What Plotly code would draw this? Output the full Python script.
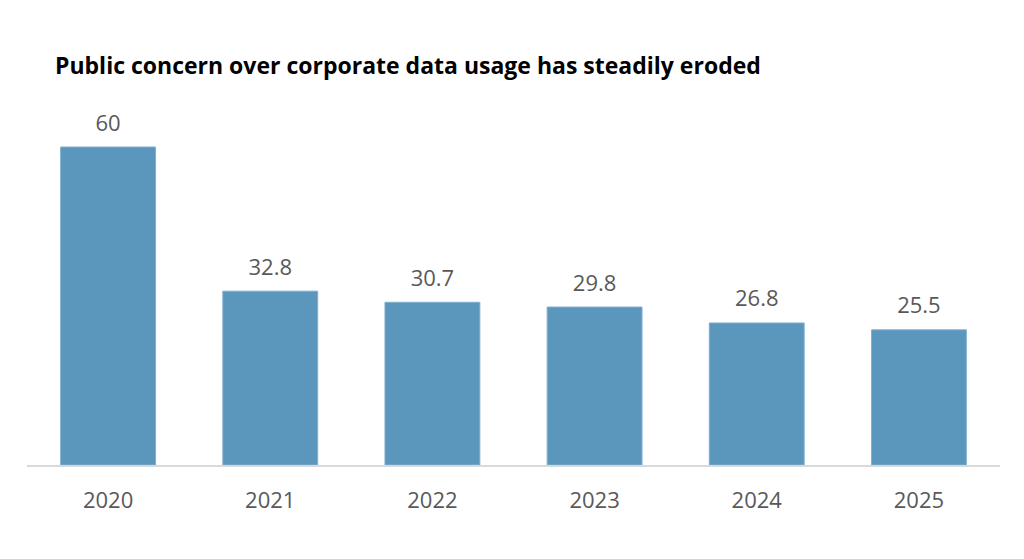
import plotly.graph_objects as go

years = ["2020", "2021", "2022", "2023", "2024", "2025"]
values = [60, 32.8, 30.7, 29.8, 26.8, 25.5]
labels = ["60", "32.8", "30.7", "29.8", "26.8", "25.5"]
title_text = "Public concern over corporate data usage has steadily eroded"

fig = go.Figure()
fig.add_trace(go.Bar(
    x=years, y=values,
    marker=dict(color="#5B96BD", line=dict(color="#7FAFCF", width=1)),
    width=0.585, hoverinfo="skip",
))
fig.add_trace(go.Scatter(
    x=years, y=values, text=labels, mode="markers+text",
    textposition="top center",
    marker=dict(size=16, opacity=0),
    textfont=dict(family="Open Sans", size=22, color="#595959"),
    cliponaxis=False, hoverinfo="skip",
))

fig.update_layout(
    width=1024, height=559,
    margin=dict(l=19, r=32, t=92, b=102),
    plot_bgcolor="white", paper_bgcolor="white",
    showlegend=False,
    title=dict(text="<b>" + title_text + "</b>", x=47/1024, xanchor="left",
               y=1 - 58/559, yanchor="middle",
               font=dict(family="Open Sans", size=23, color="#000000")),
    xaxis=dict(type="category", showline=True, linecolor="#D9D9D9", linewidth=2,
               showgrid=False,
               tickfont=dict(family="Open Sans", size=22, color="#595959"),
               ticklabelstandoff=15),
    yaxis=dict(range=[0, 365/5.3], visible=False, showgrid=False),
)
fig.write_html("out.html")
